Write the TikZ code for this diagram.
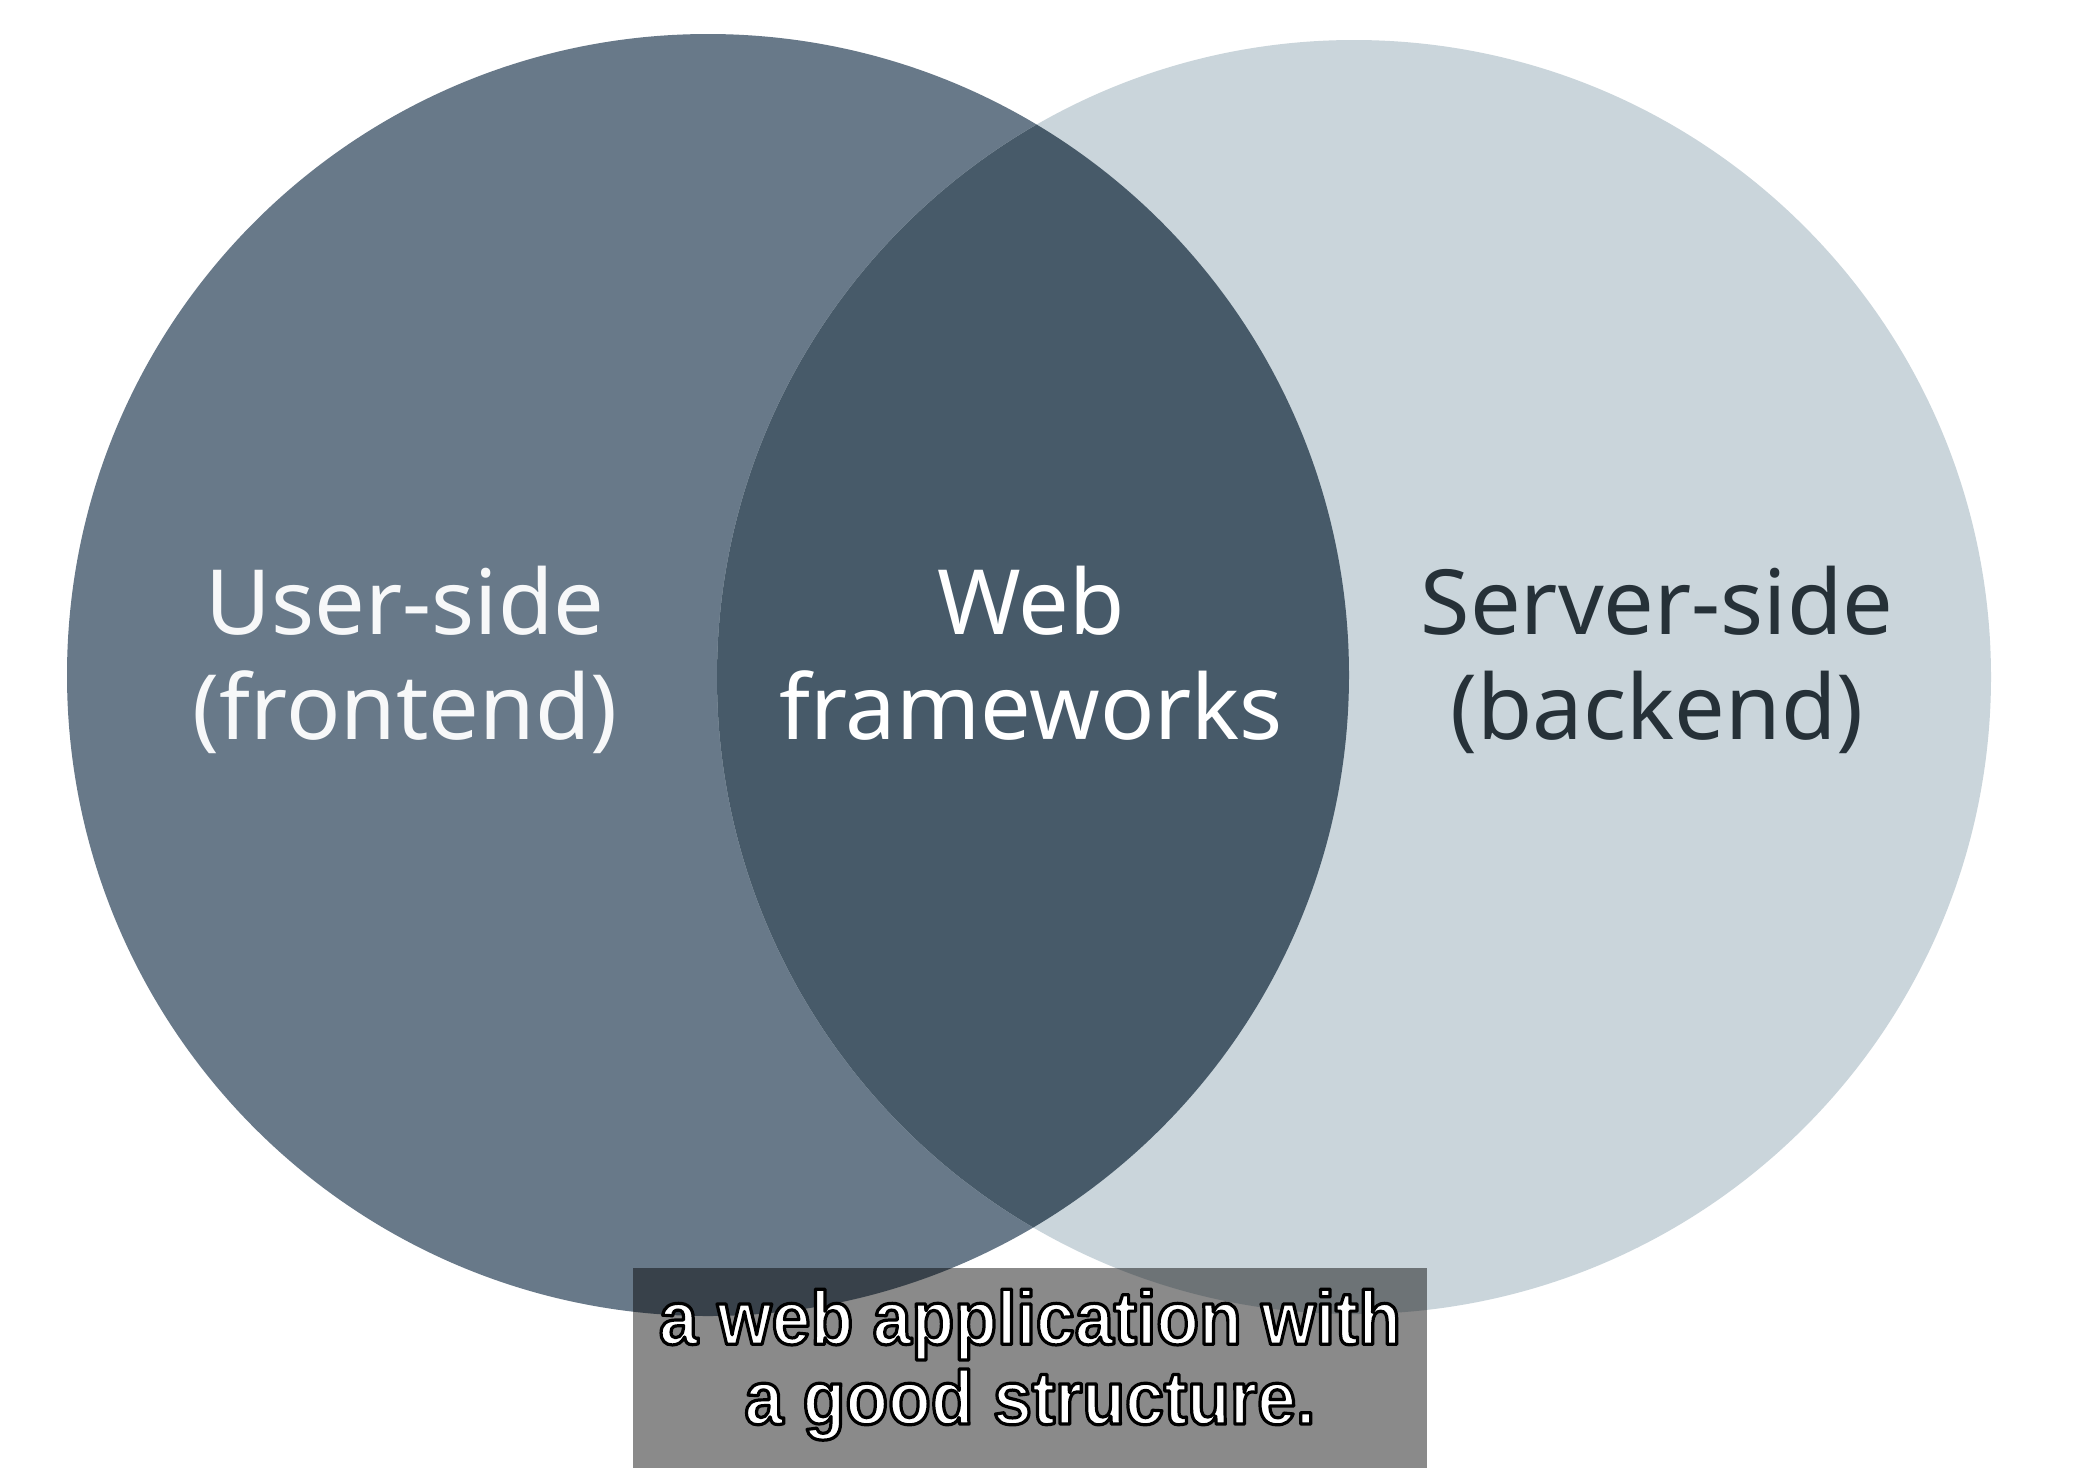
\documentclass[tikz,border=0pt]{standalone}
\usepackage{fontspec}
\usepackage{xcolor}
\setmainfont{Noto Sans}
\newfontfamily\capfont[FakeStretch=0.92]{Liberation Sans}

\definecolor{userfill}{HTML}{687989}
\definecolor{serverfill}{HTML}{CAD5DB}
\definecolor{webfill}{HTML}{475A69}
\definecolor{servertext}{HTML}{263138}

% white letters with a black rim, as in the subtitle
\newcommand\rimtext[1]{%
  \special{pdf:literal direct 2 Tr 1.6 w 1 j 0 0 0 RG}#1%
  \special{pdf:literal direct 0 Tr}}

\begin{document}
\begin{tikzpicture}[
  x=0.5pt, y=-0.5pt,
  every node/.style={inner sep=0pt, align=center},
  venntext/.style={font=\fontsize{45}{52.5}\selectfont},
  captionbox/.style={fill=black, fill opacity=0.46, text opacity=1,
    minimum width=397pt, minimum height=100pt, text=white,
    font=\capfont\bfseries\fontsize{38}{38}\selectfont}
]
  \useasboundingbox (0,0) rectangle (2078,1480);
  \fill[white] (0,0) rectangle (2078,1480);

  % the two sets and their overlap
  \fill[userfill] (708,675) circle (641);
  \fill[serverfill] (1354,677) circle (637);
  \begin{scope}
    \clip (708,675) circle (641);
    \fill[webfill] (1354,677) circle (637);
  \end{scope}

  \node[venntext, text=white!95!userfill] (user) at (405,666)
    {User-side\strut\\(frontend)\strut};
  \node[venntext, text=white] (web) at (1031,666)
    {Web\strut\\frameworks\strut};
  \node[venntext, text=servertext] (server) at (1657,666)
    {Server-side\strut\\(backend)\strut};

  % subtitle
  \node[captionbox] (caption) at (1030,1368)
    {\rimtext{a web application with}\strut\\
     \rimtext{a good structure.}\strut};
\end{tikzpicture}
\end{document}
